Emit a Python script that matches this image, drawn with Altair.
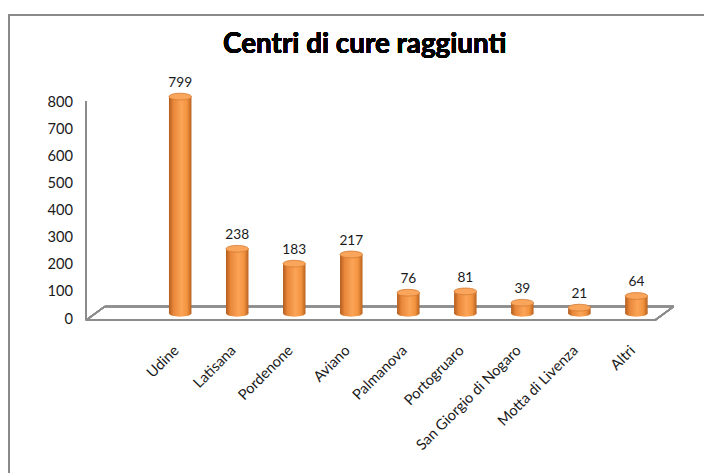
import altair as alt
import pandas as pd

categories = ["Udine", "Latisana", "Pordenone", "Aviano", "Palmanova",
              "Portogruaro", "San Giorgio di Nogaro", "Motta di Livenza", "Altri"]
values = [799, 238, 183, 217, 76, 81, 39, 21, 64]
y_ticks = [0, 100, 200, 300, 400, 500, 600, 700, 800]
title_text = "Centri di cure raggiunti"

df = pd.DataFrame({"centro": categories, "n": values})

W, H = 525, 222
FONT = "Lato"
BAR_W = 23

xenc = alt.X("centro:N", sort=categories, title=None,
             scale=alt.Scale(paddingInner=0, paddingOuter=0),
             axis=alt.Axis(labelAngle=-45, labelFont=FONT, labelFontSize=15,
                           labelColor="#1a1a1a", labelPadding=30, labelOffset=-9,
                           labelOverlap=False, domain=False, ticks=False,
                           grid=False, labelLimit=300))
yscale = alt.Scale(domain=[0, 800], nice=False, zero=True)
yaxis = alt.Axis(values=y_ticks, labelFont=FONT, labelFontSize=15,
                 labelColor="#1a1a1a", labelPadding=81, labelOffset=5,
                 labelOverlap=False, domain=False, ticks=False, grid=False)
yenc = alt.Y("n:Q", title=None, scale=yscale, axis=yaxis)

grad = alt.Gradient(
    gradient="linear",
    stops=[alt.GradientStop(color="#b35c1e", offset=0),
           alt.GradientStop(color="#e8873a", offset=0.2),
           alt.GradientStop(color="#fba457", offset=0.55),
           alt.GradientStop(color="#f3943f", offset=0.8),
           alt.GradientStop(color="#b8611f", offset=1)],
    x1=0, x2=1, y1=0, y2=0)

base = alt.Chart(df)

# frame / floor decoration
border = base.mark_rect(fill=None, stroke="#8a8a8a", strokeWidth=1.5).encode(
    x=alt.value(-146), x2=alt.value(600), y=alt.value(-83), y2=alt.value(420))
gray = "#8c8c8c"
wall = base.mark_rule(color=gray, strokeWidth=1.5).encode(
    x=alt.value(-67), y=alt.value(5), y2=alt.value(229))
front = base.mark_rule(color=gray, strokeWidth=1.5).encode(
    x=alt.value(-67), x2=alt.value(515), y=alt.value(229))
back = base.mark_rule(color=gray, strokeWidth=1.5).encode(
    x=alt.value(-48), x2=alt.value(534), y=alt.value(215))
diag_l = base.mark_rule(color=gray, strokeWidth=1.5).encode(
    x=alt.value(-67), y=alt.value(229), x2=alt.value(-48), y2=alt.value(215))
diag_r = base.mark_rule(color=gray, strokeWidth=1.5).encode(
    x=alt.value(515), y=alt.value(229), x2=alt.value(534), y2=alt.value(215))

title = base.mark_text(font=FONT, fontSize=28.5, fontWeight="bold", color="#000000",
                       align="center", baseline="alphabetic").encode(
    x=alt.value(218), y=alt.value(-44), text=alt.value(title_text))

ellipse = "M -1 0 A 1 0.3 0 1 1 1 0 A 1 0.3 0 1 1 -1 0 Z"

bottom = base.mark_point(shape=ellipse, size=BAR_W * BAR_W, filled=True,
                         fill=grad, opacity=1, strokeWidth=0).encode(
    x=xenc, y=alt.Y(datum=0, scale=yscale, axis=yaxis, title=None))
bars = base.mark_bar(width=BAR_W, fill=grad).encode(x=xenc, y=yenc)
top = base.mark_point(shape=ellipse, size=BAR_W * BAR_W, filled=True,
                      fill="#f9a55b", stroke="#d47a32", strokeWidth=0.8,
                      opacity=1).encode(x=xenc, y=yenc)
labels = base.mark_text(font=FONT, fontSize=14, color="#1a1a1a",
                        baseline="alphabetic", dy=-10).encode(
    x=xenc, y=yenc, text="n:Q")

chart = alt.layer(border, wall, back, diag_l, diag_r, front, title,
                  bottom, bars, top, labels).properties(
    width=W, height=H,
    background="white",
    autosize=alt.AutoSizeParams(type="none"),
    padding={"left": 147, "top": 85, "right": 40, "bottom": 160},
).configure_view(stroke=None)

chart.save("out.html", embed_options={"renderer": "svg", "actions": False})
